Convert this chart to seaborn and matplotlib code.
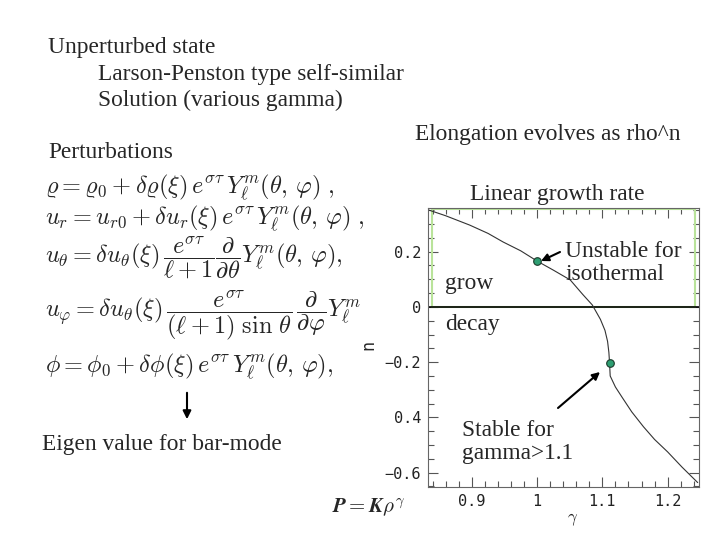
import matplotlib
matplotlib.use("Agg")
import matplotlib.pyplot as plt
import seaborn as sns
import pandas as pd
from matplotlib.ticker import MultipleLocator, FixedLocator, FixedFormatter

# ---- data ----
gamma = [0.835, 0.86, 0.897, 0.925, 0.948, 0.975, 1.0, 1.025, 1.0508, 1.07,
         1.0846, 1.097, 1.104, 1.108, 1.110, 1.111, 1.112, 1.12, 1.131, 1.145, 1.163,
         1.18, 1.2, 1.222, 1.246]
growth = [0.35, 0.33, 0.296, 0.266, 0.235, 0.203, 0.166, 0.133, 0.0976, 0.045,
          0.007, -0.045, -0.085, -0.125, -0.165, -0.202, -0.25, -0.29, -0.33, -0.38, -0.434,
          -0.48, -0.525, -0.58, -0.636]
marked_gamma = [1.0, 1.111]
marked_growth = [0.166, -0.202]
xticks = [0.9, 1.0, 1.1, 1.2]
xticklabels = ["0.9", "1", "1.1", "1.2"]
yticks = [-0.6, -0.4, -0.2, 0.0, 0.2]
yticklabels = ["\u22120.6", "0.4", "\u22120.2", "0", "0.2"]

sns.set_style("white")
plt.rcParams["font.family"] = ["Liberation Serif", "DejaVu Serif"]
plt.rcParams["mathtext.fontset"] = "cm"

W, H = 720, 540
fig = plt.figure(figsize=(7.2, 5.4), dpi=100)


def fx(x):
    return x / W


def fy(y):
    return 1 - y / H


# ---- slide texts ----
fs = 16.8
fig.text(fx(48), fy(53), "Unperturbed state", fontsize=fs, va="baseline")
fig.text(fx(98), fy(80), "Larson-Penston type self-similar", fontsize=fs, va="baseline")
fig.text(fx(98), fy(106), "Solution (various gamma)", fontsize=fs, va="baseline")
fig.text(fx(48), fy(158), "Perturbations", fontsize=fs, va="baseline")
fig.text(fx(415), fy(140), "Elongation evolves as rho^n", fontsize=fs, va="baseline")
fig.text(fx(470), fy(200), "Linear growth rate", fontsize=fs, va="baseline")
fig.text(fx(42), fy(450), "Eigen value for bar-mode", fontsize=fs, va="baseline")

# equations
efs = 17.5
eqs = [
    (187, r"$\varrho = \varrho_0 + \delta\varrho(\xi)\, e^{\sigma\tau}\, Y_\ell^m(\theta,\, \varphi)\ ,$"),
    (218, r"$u_r = u_{r0} + \delta u_r(\xi)\, e^{\sigma\tau}\, Y_\ell^m(\theta,\, \varphi)\ ,$"),
    (258, r"$u_\theta = \delta u_\theta(\xi)\, \dfrac{e^{\sigma\tau}}{\ell+1}\dfrac{\partial}{\partial\theta} Y_\ell^m(\theta,\, \varphi),$"),
    (316, r"$u_\varphi = \delta u_\theta(\xi)\, \dfrac{e^{\sigma\tau}}{(\ell+1)\ \sin\,\theta}\,\dfrac{\partial}{\partial\varphi} Y_\ell^m$"),
    (366, r"$\phi = \phi_0 + \delta\phi(\xi)\, e^{\sigma\tau}\, Y_\ell^m(\theta,\, \varphi),$"),
]
for y, t in eqs:
    fig.text(fx(45), fy(y), t, fontsize=efs, va="center")

fig.text(fx(332), fy(508), r"$\boldsymbol{P = K\rho^\gamma}$", fontsize=15, va="center")

fig.patches.append(matplotlib.patches.FancyArrowPatch(
    (fx(187), fy(390)), (fx(187), fy(422)), transform=fig.transFigure,
    arrowstyle="-|>", mutation_scale=12, color="black", lw=1.5))

# ---- the plot ----
ax = fig.add_axes([fx(428), fy(487), fx(699 - 428), (487 - 208) / H])
df = pd.DataFrame({"gamma": gamma, "n": growth})
pts = pd.DataFrame({"gamma": marked_gamma, "n": marked_growth})

ax.add_patch(matplotlib.patches.Rectangle((0.839, 0.0), 1.2425 - 0.839, 0.355,
                                          fill=False, edgecolor="#b9e39a", lw=1.5, zorder=1))
ax.axhline(0, color="black", lw=1.2, zorder=2)
sns.lineplot(data=df, x="gamma", y="n", sort=False, estimator=None,
             color="#333333", lw=0.8, ax=ax, zorder=3)
sns.scatterplot(data=pts, x="gamma", y="n", color="#2e9e72", edgecolor="#1a3a2a",
                s=30, linewidth=0.8, ax=ax, zorder=4)

ax.set_xlim(0.833, 1.248)
ax.set_ylim(-0.652, 0.358)
ax.xaxis.set_major_locator(FixedLocator(xticks))
ax.xaxis.set_major_formatter(FixedFormatter(xticklabels))
ax.yaxis.set_major_locator(FixedLocator(yticks))
ax.yaxis.set_major_formatter(FixedFormatter(yticklabels))
ax.xaxis.set_minor_locator(MultipleLocator(0.02))
ax.yaxis.set_minor_locator(MultipleLocator(0.05))
ax.tick_params(which="both", direction="in", top=True, right=True, left=True, bottom=True,
               color="#555555")
ax.tick_params(which="major", length=7, width=0.8, labelsize=11)
ax.tick_params(axis="x", which="major", pad=5)
ax.tick_params(axis="y", which="major", pad=5)
ax.tick_params(which="minor", length=4, width=0.8)
for lab in ax.get_xticklabels() + ax.get_yticklabels():
    lab.set_family("DejaVu Sans Mono")
    lab.set_color("#222222")
for sp in ax.spines.values():
    sp.set_color("#666666")
    sp.set_linewidth(0.8)
ax.set_xlabel(r"$\gamma$", fontsize=12)
ax.set_ylabel("n", fontsize=12, family="DejaVu Sans Mono")
ax.xaxis.set_label_coords((573 - 428) / (699 - 428), -(520 - 487) / (487 - 208), transform=ax.transAxes)
ax.yaxis.set_label_coords(-(428 - 368) / (699 - 428), (487 - 345) / (487 - 208), transform=ax.transAxes)
ax.xaxis.label.set_va("center")
ax.yaxis.label.set_va("center")

ax.annotate("grow", xy=(fx(445), fy(289)), xycoords="figure fraction", fontsize=fs)
ax.annotate("decay", xy=(fx(445), fy(330)), xycoords="figure fraction", fontsize=fs)
ax.annotate("Unstable for\nisothermal", xy=(fx(565), fy(280)), xycoords="figure fraction",
            fontsize=fs, linespacing=1.15)
ax.annotate("Stable for\ngamma>1.1", xy=(fx(462), fy(459)), xycoords="figure fraction",
            fontsize=fs, linespacing=1.1)
ax.annotate("", xy=(fx(541), fy(261)), xycoords="figure fraction",
            xytext=(fx(560), fy(252)), textcoords="figure fraction",
            arrowprops=dict(arrowstyle="-|>", color="black", lw=1.5, mutation_scale=11,
                            shrinkA=0, shrinkB=0))
ax.annotate("", xy=(fx(600), fy(372)), xycoords="figure fraction",
            xytext=(fx(558), fy(408)), textcoords="figure fraction",
            arrowprops=dict(arrowstyle="-|>", color="black", lw=1.5, mutation_scale=11,
                            shrinkA=0, shrinkB=0))

fig.savefig("out.png", dpi=100)
